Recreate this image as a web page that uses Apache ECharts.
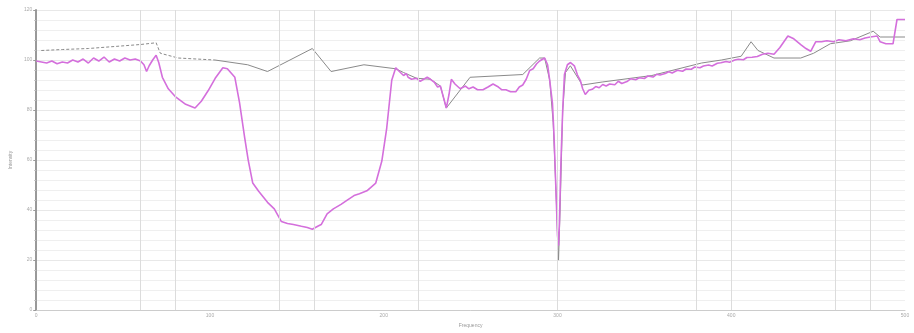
<!DOCTYPE html>
<html>
<head>
<meta charset="utf-8">
<script src="https://cdn.jsdelivr.net/npm/echarts@6/dist/echarts.min.js"></script>
<style>
html,body{margin:0;padding:0;background:#fff;}
#chart{width:914px;height:333px;}
</style>
</head>
<body>
<div id="chart"></div>
<script>
// x-axis tick labels / range
var xTicks = [0, 100, 200, 300, 400, 500];
var yTicks = [0, 20, 40, 60, 80, 100, 120];
var xName = "Frequency";
var yName = "Intensity";
// vertical grid line positions (data units)
var gridX = [60, 80, 140, 160, 220, 300, 380, 400, 460, 480];

// magenta series [x, y]
var seriesPink = [
[0,99.6],[3,99.2],[6,98.8],[9,99.6],[12,98.5],[15,99.2],[18,98.8],[21,100],[24,99.2],[27,100.4],[30,98.8],[33,100.8],[36,99.6],[39,101.2],[42,99.2],[45,100.4],[48,99.6],[51,100.8],[54,100],[57,100.4],[60,99.6],[62,98.1],[63.5,95.4],[65,97.7],[67,100],[69,101.9],[70.5,99],[72.6,93.1],[76,88.5],[80,85.4],[86,82.3],[91.4,80.8],[95,83.5],[98.9,87.7],[103,92.7],[107.4,96.9],[110,96.5],[114.3,93.1],[117,83],[120,68.8],[122,60],[124.6,50.8],[128,47.5],[133.1,43.1],[137,40.5],[141.1,35.4],[144.6,34.6],[148,34.2],[152.6,33.5],[156,33],[158.9,32.3],[162,33.5],[164,34.2],[167.4,38.5],[171,40.5],[175.4,42.3],[179,44],[182.9,45.8],[186,46.5],[190.3,47.7],[195.4,50.8],[198.9,59.6],[201.7,72.7],[204.6,91.9],[206.9,96.9],
[209,95.4],[211.4,93.8],[213,94.6],[214,93.1],[216,92.3],[218.9,92.7],[221,91.5],[223,92.3],[225,93.1],[226.9,92.3],[229,91.2],[231,89.2],[232.6,89.6],[234,86],[236,80.8],[237.5,86],[238.9,92.3],[241,90.4],[244,88.5],[247,89.6],[249,88.5],[251.4,89.2],[254,88.1],[257.1,88.1],[260,89.2],[262.9,90.4],[266,89.2],[268,88.1],[270.3,88.1],[273,87.3],[276,87.3],[278,89.2],[280,90],[282,92.3],[284,95.8],[286,96.5],[288,98.5],[289.7,99.6],[292.6,100.8],[294.3,98.1],[295.5,92],[297.1,82.7],[298,70],[299,50],[300,30],[300.6,25.8],[301.1,35],[302,60],[303,80],[304,94.2],[305.7,98.1],[307.5,99],[309.7,97.7],[311.5,94],[313.1,91.9],[314.5,88.5],[316,86.2],
[318,87.9],[320,88.3],[322,89.4],[324,88.9],[326,90.2],[328,89.6],[330,90.4],[333,90.1],[335,91.5],[337,90.6],[340,91.4],[342,92.5],[345,92.1],[347,92.9],[350,92.6],[352,93.6],[355,93.2],[357,94.3],[359,94.0],[362,94.6],[364,95.3],[366,94.8],[369,95.9],[372,95.5],[374,96.4],[377,96.3],[379,97.2],[382,96.9],[384,97.6],[387,98.0],[389,97.6],[392,98.7],[394,98.9],[397,99.4],[399,99.1],[402,100.0],[404,100.3],[407,100.1],[409,101.0],[412,101.1],[415,101.4],[418,102.3],[421.1,102.7],[424.6,102.3],[428,105],[432.6,109.6],[436,108.5],[440,106.2],[443,104.6],[445.7,103.5],[448.6,107.3],[452,107.3],[455,107.7],[458.9,107.3],[462,108.1],[466,107.7],[470.3,108.5],[474,108.1],[477,108.8],[480,109.2],[484,109.6],[485.7,107.3],[489,106.5],[493.1,106.5],[495.4,116.2],[498.9,116.2],[500,116.2]
];

// gray series, dashed leading part [x, y]
var seriesGrayDashed = [
[2.9,103.8],[15,104.2],[30,104.6],[45,105.4],[60,106.2],[69,106.9],[71.4,102.7],[81.7,100.8],[102.9,100]
];
// gray series, solid part [x, y]
var seriesGray = [
[102.9,100],[121.7,98.1],[133.1,95.4],[158.9,104.6],[169.7,95.4],[188.6,98.1],[206.9,96.5],[211.4,95],[218.9,92.7],[226.9,92.3],[232.6,89.6],[236,80.8],[249.7,93.1],[280,94.2],[289.7,100.8],[292.6,100.8],[295.5,92],[297.5,75],[299,50],[300.6,20],[301.5,40],[303,80],[304.6,95],[307.4,97.7],[314.3,90],[325.7,91.2],[354.3,93.8],[382.9,98.8],[394.3,100],[405.7,101.5],[411.4,107.3],[415.4,103.8],[424.6,100.8],[440,100.8],[447.4,102.7],[457,106.5],[468.6,107.7],[481.7,111.5],[485.7,109.2],[500,109.2]
];

var chart = echarts.init(document.getElementById('chart'), null, {renderer:'canvas'});
chart.setOption({
  animation:false,
  backgroundColor:'#fff',
  grid:{left:30,right:9,top:10,bottom:11},
  xAxis:{
    type:'value', min:xTicks[0], max:xTicks[xTicks.length-1], interval:100,
    name:xName, nameLocation:'middle', nameGap:6,
    nameTextStyle:{fontSize:5,color:'#999'},
    axisLine:{show:true,lineStyle:{color:'#ccc',width:1}},
    axisTick:{show:false},
    axisLabel:{fontSize:5,color:'#aaa',margin:3},
    splitLine:{show:false}
  },
  yAxis:{
    type:'value', min:yTicks[0], max:yTicks[yTicks.length-1], interval:20,
    name:yName, nameLocation:'middle', nameGap:19, nameRotate:90,
    nameTextStyle:{fontSize:5,color:'#999'},
    axisLine:{show:true,lineStyle:{color:'#999',width:2}},
    axisTick:{show:true,length:3,lineStyle:{color:'#999'}},
    minorTick:{show:true,splitNumber:5,length:2,lineStyle:{color:'#bbb'}},
    axisLabel:{fontSize:5,color:'#aaa',margin:4},
    splitLine:{show:true,lineStyle:{color:'#e8e8e8',width:1}},
    minorSplitLine:{show:true,lineStyle:{color:'#efefef',width:1}}
  },
  series:[
    {
      type:'line', data:seriesGrayDashed, showSymbol:false, silent:true,
      lineStyle:{color:'#8a8a8a',width:1,type:[3,2]},
      z:2
    },
    {
      type:'line', data:seriesGray, showSymbol:false, silent:true,
      lineStyle:{color:'#8a8a8a',width:1},
      z:2,
      markLine:{
        silent:true, symbol:'none', label:{show:false},
        lineStyle:{color:'#dcdcdc',width:1,type:'solid'},
        data:gridX.map(function(v){return {xAxis:v};})
      }
    },
    {
      type:'line', data:seriesPink, showSymbol:false, silent:true,
      lineStyle:{color:'#d46fdc',width:1.6},
      z:3
    }
  ]
});
</script>
</body>
</html>
